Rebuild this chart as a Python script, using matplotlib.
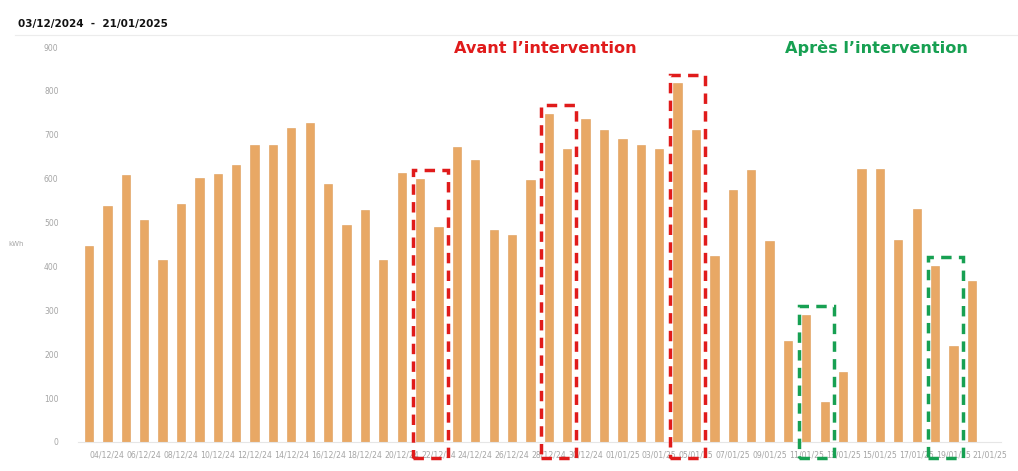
import numpy as np
import pandas as pd
import matplotlib

matplotlib.use("Agg")
import matplotlib.pyplot as plt
from matplotlib.patches import Rectangle

# daily consumption, 03/12/2024 -> 21/01/2025 (kWh)
dates = pd.date_range("2024-12-03", "2025-01-21", freq="D")
kwh = [447, 538, 608, 505, 414, 542, 601, 610, 632, 677,
       677, 715, 726, 587, 494, 529, 414, 613, 599, 490,
       673, 643, 483, 472, 597, 747, 667, 736, 712, 690,
       677, 667, 817, 712, 424, 574, 619, 458, 229, 289,
       90, 159, 623, 621, 460, 531, 402, 218, 367, 0]
tick_labels = [d.strftime("%d/%m/%y") for d in dates]

# highlighted pairs of days (first index, last index)
before_boxes = [(18, 19), (25, 26), (32, 33)]
after_boxes = [(39, 40), (46, 47)]

bar_color = "#E8A865"
red = "#E01B1B"
green = "#17A052"

fig = plt.figure(figsize=(10.18, 4.71), dpi=100)
ax = fig.add_axes([0.0766, 0.0616, 0.907, 0.8386])

x = np.arange(len(kwh))
ax.bar(x, kwh, width=0.45, color=bar_color, edgecolor="#DE9C58", linewidth=0.4, zorder=2)

ax.set_xlim(-0.6, len(kwh) - 0.4)
ax.set_ylim(0, 900)
ax.set_yticks(range(0, 901, 100))
ax.set_yticklabels([str(v) for v in range(0, 901, 100)], fontsize=5.5, color="#a5a5a5")
ax.set_xticks(x[1::2])
ax.set_xticklabels(tick_labels[1::2], fontsize=5.6, color="#a5a5a5")
ax.tick_params(axis="both", length=0, pad=6)
ax.tick_params(axis="y", pad=14)
for side in ["top", "right", "left"]:
    ax.spines[side].set_visible(False)
ax.spines["bottom"].set_color("#e6e6e6")
ax.spines["bottom"].set_linewidth(0.8)

ax.text(-0.075, 0.5, "kWh", transform=ax.transAxes, fontsize=5, color="#a5a5a5",
        ha="left", va="center")


def draw_box(i, j, color):
    top = max(kwh[i:j + 1]) + 20
    bottom = -36
    rect = Rectangle((i - 0.4, bottom), (j - i) + 0.9, top - bottom, fill=False,
                     edgecolor=color, linewidth=2.5, linestyle=(0, (3, 2.1)),
                     clip_on=False, zorder=3)
    ax.add_patch(rect)


for i, j in before_boxes:
    draw_box(i, j, red)
for i, j in after_boxes:
    draw_box(i, j, green)

fig.text(0.536, 0.898, "Avant l\u2019intervention", color=red, fontsize=11.6,
         fontweight="bold", ha="center", va="center")
fig.text(0.861, 0.898, "Apr\u00e8s l\u2019intervention", color=green, fontsize=11.6,
         fontweight="bold", ha="center", va="center")

fig.text(0.018, 0.948, "03/12/2024  -  21/01/2025", color="#111111", fontsize=7.5,
         fontweight="bold", ha="left", va="center")
fig.add_artist(plt.Line2D([0.015, 1.0], [0.925, 0.925], color="#ececec", linewidth=0.8))

fig.savefig("out.png", dpi=100, facecolor="white")
